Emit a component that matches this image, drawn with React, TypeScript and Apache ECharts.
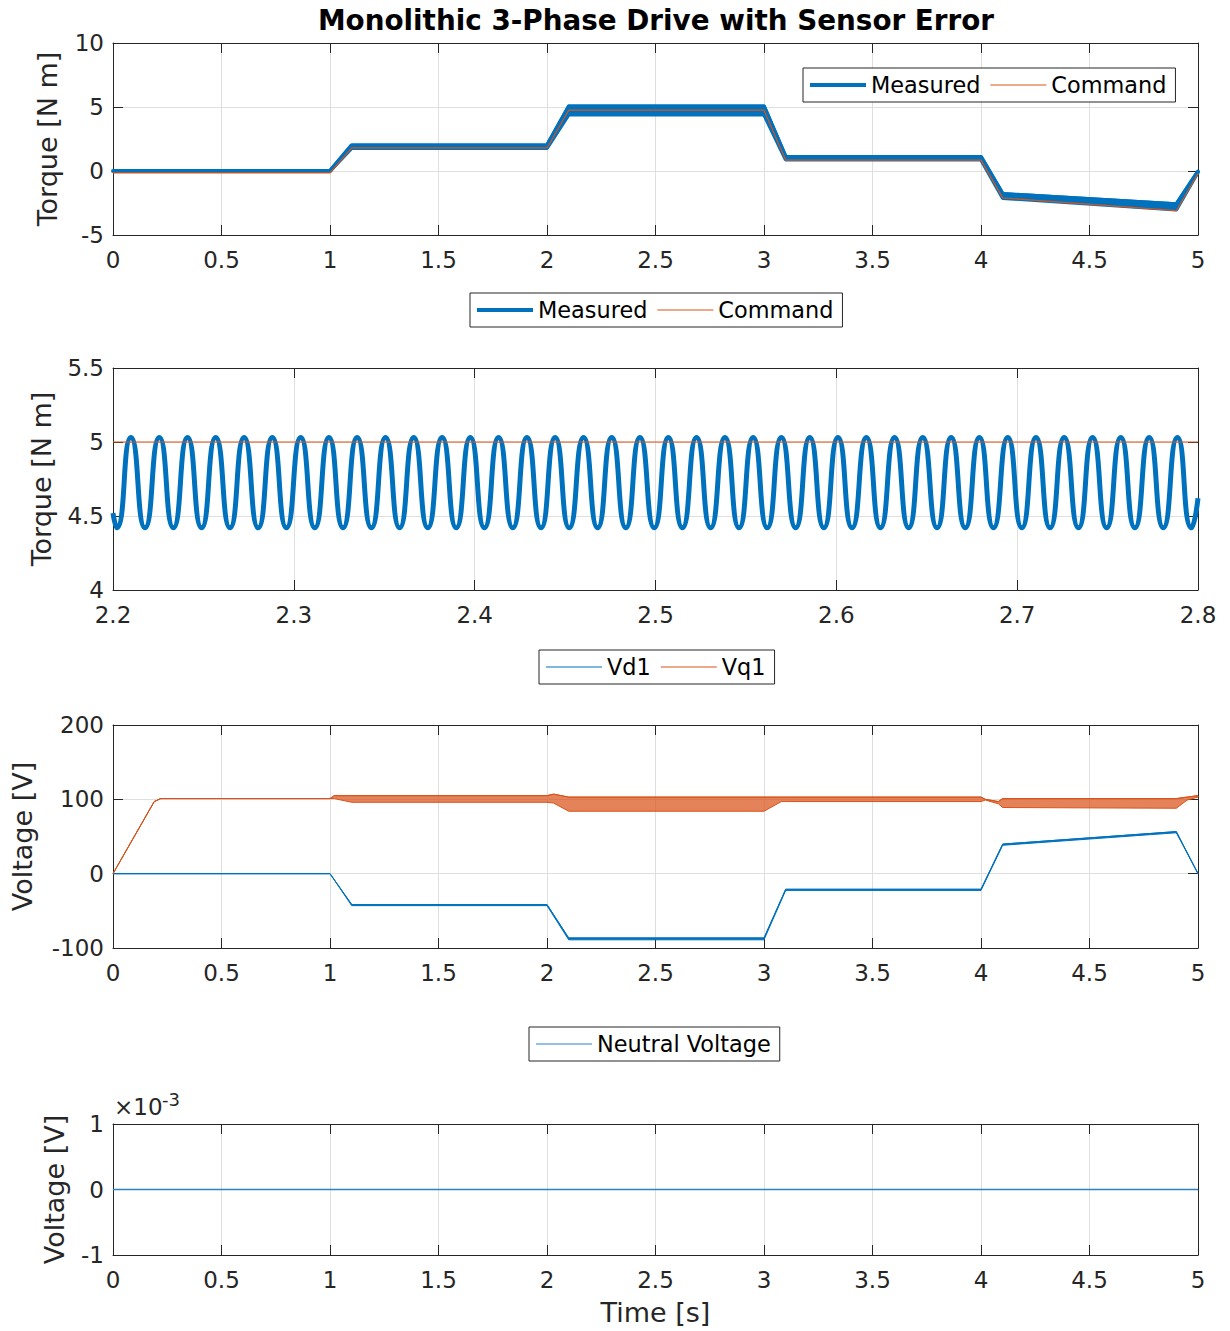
import React, { useEffect, useRef } from "react";
import * as echarts from "echarts";

const BLUE = "#0072BD";
const ORANGE = "#D95319";
const AXIS = "#262626";
const GRIDC = "#dfdfdf";
const FONT = "DejaVu Sans";

// ---- Panel 1: overview torque (Measured drawn as envelope band of a fast ripple)
const overviewTime = [0, 1, 1.1, 2, 2.1, 3, 3.1, 4, 4.1, 4.9, 5];
const measuredUpper = [0, 0, 2.0, 2.0, 5.03, 5.03, 1.1, 1.1, -1.8, -2.6, -0.05];
const measuredLower = [0, 0, 1.8, 1.8, 4.42, 4.42, 0.9, 0.9, -2.1, -3.0, -0.05];
const commandTorque = [-0.15, -0.15, 1.8, 1.8, 4.75, 4.75, 0.85, 0.85, -2.1, -3.1, -0.2];

// ---- Panel 2: zoomed torque, extrema
const zoomTime = [
  2.2, 2.2021, 2.2099, 2.2177, 2.2256, 2.2334, 2.2412, 2.249, 2.2568, 2.2647, 2.2725,
  2.2803, 2.2881, 2.2959, 2.3038, 2.3116, 2.3194, 2.3272, 2.335, 2.3429, 2.3507,
  2.3585, 2.3663, 2.3741, 2.382, 2.3898, 2.3976, 2.4054, 2.4132, 2.4211, 2.4289,
  2.4367, 2.4445, 2.4523, 2.4602, 2.468, 2.4758, 2.4836, 2.4914, 2.4993, 2.5071,
  2.5149, 2.5227, 2.5305, 2.5384, 2.5462, 2.554, 2.5618, 2.5696, 2.5775, 2.5853,
  2.5931, 2.6009, 2.6087, 2.6166, 2.6244, 2.6322, 2.64, 2.6478, 2.6557, 2.6635,
  2.6713, 2.6791, 2.6869, 2.6948, 2.7026, 2.7104, 2.7182, 2.726, 2.7339, 2.7417,
  2.7495, 2.7573, 2.7651, 2.773, 2.7808, 2.7886, 2.7964, 2.8,
];
const zoomTorque = [
  4.52, 4.42, 5.03, 4.42, 5.03, 4.42, 5.03, 4.42, 5.03, 4.42, 5.03,
  4.42, 5.03, 4.42, 5.03, 4.42, 5.03, 4.42, 5.03, 4.42, 5.03,
  4.42, 5.03, 4.42, 5.03, 4.42, 5.03, 4.42, 5.03, 4.42, 5.03,
  4.42, 5.03, 4.42, 5.03, 4.42, 5.03, 4.42, 5.03, 4.42, 5.03,
  4.42, 5.03, 4.42, 5.03, 4.42, 5.03, 4.42, 5.03, 4.42, 5.03,
  4.42, 5.03, 4.42, 5.03, 4.42, 5.03, 4.42, 5.03, 4.42, 5.03,
  4.42, 5.03, 4.42, 5.03, 4.42, 5.03, 4.42, 5.03, 4.42, 5.03,
  4.42, 5.03, 4.42, 5.03, 4.42, 5.03, 4.42, 4.62,
];
const zoomCommandTime = [2.2, 2.8];
const zoomCommand = [5, 5];

// ---- Panel 3: dq voltages (ripple drawn as envelope band)
const vqTime = [0, 0.19, 0.22, 1.0, 1.02, 1.1, 2.0, 2.03, 2.1, 3.0, 3.08, 3.1, 4.0, 4.02, 4.08, 4.1, 4.9, 4.95, 5.0];
const vqUpper = [0, 97, 101, 101, 105, 105, 105, 107, 103, 103, 103, 103, 103, 100, 97, 101, 101, 103, 105];
const vqLower = [0, 97, 101, 101, 101, 96, 96, 95, 84, 84, 97, 97, 97, 99, 94, 89, 88, 99, 103];
const vdTime = [0, 1.0, 1.1, 2.0, 2.1, 3.0, 3.1, 4.0, 4.1, 4.9, 5.0];
const vdUpper = [0, 0, -41.5, -41.5, -86.5, -86.5, -21, -21, 39.8, 56.6, 0];
const vdLower = [0, 0, -43, -43, -89, -89, -22.5, -22.5, 38.2, 55, 0];

// ---- Panel 4: neutral voltage
const neutralTime = [0, 5];
const neutralVoltage = [0, 0];

const pairs = (t: number[], v: number[]) => t.map((x, i) => [x, v[i]]);

const grids = [
  { left: 113, top: 43, width: 1085, height: 192 },
  { left: 113, top: 368, width: 1085, height: 222 },
  { left: 113, top: 725, width: 1085, height: 223 },
  { left: 113, top: 1124, width: 1085, height: 131 },
];

const xRanges = [
  { min: 0, max: 5, interval: 0.5 },
  { min: 2.2, max: 2.8, interval: 0.1 },
  { min: 0, max: 5, interval: 0.5 },
  { min: 0, max: 5, interval: 0.5 },
];
const yRanges = [
  { min: -5, max: 10, interval: 5 },
  { min: 4, max: 5.5, interval: 0.5 },
  { min: -100, max: 200, interval: 100 },
  { min: -0.001, max: 0.001, interval: 0.001 },
];
const yNames = ["Torque [N m]", "Torque [N m]", "Voltage [V]", "Voltage [V]"];
const yNameGaps = [52, 58, 77, 45];

function bandSeries(
  name: string,
  idx: number,
  t: number[],
  up: number[],
  lo: number[],
  color: string,
  fill: string,
  width: number,
  z: number
) {
  return {
    type: "custom",
    name,
    xAxisIndex: idx * 2,
    yAxisIndex: idx * 2,
    z,
    silent: true,
    data: [[t[0], up[0]]],
    renderItem: (_p: any, api: any) => {
      const pts: number[][] = [];
      for (let i = 0; i < t.length; i++) pts.push(api.coord([t[i], up[i]]));
      for (let i = t.length - 1; i >= 0; i--) pts.push(api.coord([t[i], lo[i]]));
      return {
        type: "polygon",
        shape: { points: pts },
        style: { fill, stroke: color, lineWidth: width, lineJoin: "round" },
      };
    },
  };
}

function lineSeries(name: string, idx: number, data: number[][], color: string, width: number, z: number, smooth: any = false) {
  return {
    type: "line",
    name,
    xAxisIndex: idx * 2,
    yAxisIndex: idx * 2,
    data,
    symbol: "none",
    showSymbol: false,
    smooth,
    z,
    lineStyle: { color, width, join: "round" },
    itemStyle: { color },
    emphasis: { disabled: true },
  };
}

export default function App() {
  const ref = useRef<HTMLDivElement>(null);
  useEffect(() => {
    if (!ref.current) return;
    const chart = echarts.init(ref.current, undefined, { renderer: "svg" });

    const xAxes: any[] = [];
    const yAxes: any[] = [];
    grids.forEach((_g, i) => {
      const xr = xRanges[i];
      const yr = yRanges[i];
      xAxes.push({
        type: "value",
        gridIndex: i,
        position: "bottom",
        ...xr,
        name: i === 3 ? "Time [s]" : "",
        nameLocation: "middle",
        nameGap: 44,
        nameTextStyle: { fontFamily: FONT, fontSize: 27, color: AXIS },
        axisLine: { show: true, onZero: false, lineStyle: { color: AXIS, width: 1 } },
        axisTick: { show: true, inside: true, length: 10, lineStyle: { color: AXIS } },
        axisLabel: { show: true, margin: 13, fontFamily: FONT, fontSize: 23, color: AXIS },
        splitLine: { show: true, lineStyle: { color: GRIDC, width: 1 } },
      });
      xAxes.push({
        type: "value",
        gridIndex: i,
        position: "top",
        ...xr,
        axisLine: { show: true, onZero: false, lineStyle: { color: AXIS, width: 1 } },
        axisTick: { show: true, inside: true, length: 10, lineStyle: { color: AXIS } },
        axisLabel: { show: false },
        splitLine: { show: false },
      });
      yAxes.push({
        type: "value",
        gridIndex: i,
        position: "left",
        ...yr,
        name: yNames[i],
        nameLocation: "middle",
        nameGap: yNameGaps[i],
        nameTextStyle: { fontFamily: FONT, fontSize: 27, color: AXIS },
        axisLine: { show: true, onZero: false, lineStyle: { color: AXIS, width: 1 } },
        axisTick: { show: true, inside: true, length: 10, lineStyle: { color: AXIS } },
        axisLabel: {
          show: true,
          margin: 9,
          fontFamily: FONT,
          fontSize: 23,
          color: AXIS,
          formatter: i === 3 ? (v: number) => String(Math.round(v * 1000)) : undefined,
        },
        splitLine: { show: true, lineStyle: { color: GRIDC, width: 1 } },
      });
      yAxes.push({
        type: "value",
        gridIndex: i,
        position: "right",
        ...yr,
        axisLine: { show: true, onZero: false, lineStyle: { color: AXIS, width: 1 } },
        axisTick: { show: true, inside: true, length: 10, lineStyle: { color: AXIS } },
        axisLabel: { show: false },
        splitLine: { show: false },
      });
    });

    const thick = "path://M0 0H56V4H0Z";
    const thin = "path://M0 0H56V1H0Z";
    const legendBase = {
      orient: "horizontal",
      itemWidth: 56,
      itemHeight: 22,
      itemGap: 10,
      padding: [6, 9, 6, 7],
      backgroundColor: "#ffffff",
      borderColor: AXIS,
      borderWidth: 1,
      borderRadius: 0,
      selectedMode: false,
      textStyle: { fontFamily: FONT, fontSize: 22.4, color: "#000" },
    };

    const option: any = {
      animation: false,
      backgroundColor: "#ffffff",
      title: {
        text: "Monolithic 3-Phase Drive with Sensor Error",
        left: 656,
        top: 6,
        padding: 0,
        textAlign: "center",
        textStyle: { fontFamily: FONT, fontSize: 27.8, fontWeight: "bold", color: "#000" },
      },
      grid: grids.map((g) => ({ ...g, containLabel: false })),
      xAxis: xAxes,
      yAxis: yAxes,
      legend: [
        { ...legendBase, left: 803, top: 68, data: [{ name: "Measured", icon: thick }, { name: "Command", icon: thin }] },
        { ...legendBase, left: 470, top: 293, data: [{ name: "Measured", icon: thick }, { name: "Command", icon: thin }] },
        { ...legendBase, left: 539, top: 650, data: [{ name: "Vd1", icon: thin }, { name: "Vq1", icon: thin }] },
        { ...legendBase, left: 529, top: 1027, data: [{ name: "Neutral Voltage", icon: thin }] },
      ],
      graphic: [
        {
          type: "text",
          x: 114,
          y: 1095,
          style: { text: "×10", fontFamily: FONT, fontSize: 23, fill: AXIS },
        },
        {
          type: "text",
          x: 162,
          y: 1090,
          style: { text: "-3", fontFamily: FONT, fontSize: 18, fill: AXIS },
        },
      ],
      series: [
        // panel 1
        bandSeries("Measured band", 0, overviewTime, measuredUpper, measuredLower, BLUE, BLUE, 4, 2),
        lineSeries("Measured", 0, pairs(overviewTime, measuredUpper), BLUE, 4, 3),
        lineSeries("Command", 0, pairs(overviewTime, commandTorque), ORANGE, 1.2, 4),
        // panel 2
        lineSeries("Measured", 1, pairs(zoomTime, zoomTorque), BLUE, 5, 3, 0.6),
        lineSeries("Command", 1, pairs(zoomCommandTime, zoomCommand), ORANGE, 1.2, 4),
        // panel 3
        bandSeries("Vd1 band", 2, vdTime, vdUpper, vdLower, BLUE, BLUE, 1, 2),
        lineSeries("Vd1", 2, pairs(vdTime, vdUpper), BLUE, 1, 3),
        bandSeries("Vq1 band", 2, vqTime, vqUpper, vqLower, ORANGE, "rgba(217,83,25,0.72)", 1, 2),
        lineSeries("Vq1", 2, pairs(vqTime, vqUpper), ORANGE, 1, 3),
        // panel 4
        lineSeries("Neutral Voltage", 3, pairs(neutralTime, neutralVoltage), "#2a82c6", 1.3, 5),
      ],
    };

    chart.setOption(option);
    return () => chart.dispose();
  }, []);

  return (
    <div
      ref={ref}
      style={{ position: "absolute", left: 0, top: 0, width: 1230, height: 1331, background: "#fff" }}
    />
  );
}
